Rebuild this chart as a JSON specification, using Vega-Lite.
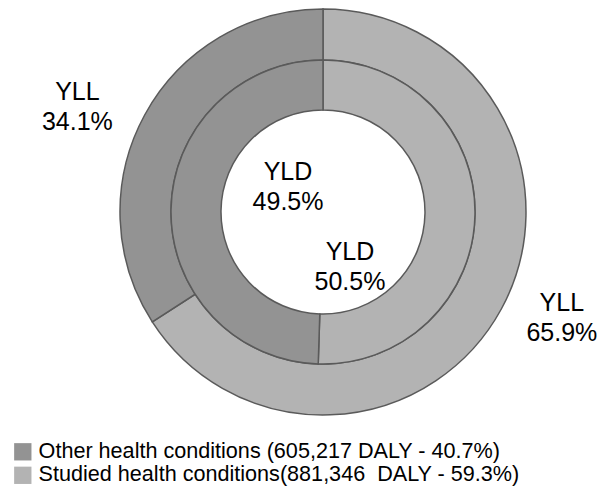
{
  "$schema": "https://vega.github.io/schema/vega-lite/v6.json",
  "width": 554,
  "height": 424,
  "autosize": {"type": "none"},
  "padding": {"left": 46, "top": 0, "right": 0, "bottom": 66},
  "background": "white",
  "config": {
    "view": {"stroke": null},
    "font": "Liberation Sans",
    "text": {"font": "Liberation Sans"}
  },
  "data": {
    "values": [
      {"ring": "YLL", "group": "Studied", "value": 65.9, "label": "YLL\n65.9%"},
      {"ring": "YLL", "group": "Other", "value": 34.1, "label": "YLL\n34.1%"},
      {"ring": "YLD", "group": "Studied", "value": 50.5, "label": "YLD\n50.5%"},
      {"ring": "YLD", "group": "Other", "value": 49.5, "label": "YLD\n49.5%"}
    ]
  },
  "layer": [
    {
      "transform": [{"filter": "datum.ring == 'YLL'"}],
      "mark": {"type": "arc", "outerRadius": 203, "innerRadius": 152, "stroke": "#5a5a5a", "strokeWidth": 1.5},
      "encoding": {
        "theta": {"field": "value", "type": "quantitative", "stack": true, "scale": {"domain": [0, 100]}},
        "order": {"field": "group", "sort": "descending"},
        "color": {
          "field": "group",
          "type": "nominal",
          "scale": {"domain": ["Other", "Studied"], "range": ["#939393", "#b3b3b3"]},
          "legend": {
            "title": null,
            "orient": "none",
            "legendX": -34,
            "legendY": 441,
            "padding": 0,
            "symbolType": "square",
            "symbolSize": 300,
            "symbolStrokeWidth": 0,
            "symbolOpacity": 1,
            "labelFont": "Liberation Sans",
            "labelFontSize": 21.6,
            "labelColor": "#000000",
            "labelOffset": 5,
            "labelLimit": 600,
            "rowPadding": 0.5,
            "labelExpr": "datum.label == 'Other' ? 'Other health conditions (605,217 DALY - 40.7%)' : 'Studied health conditions(881,346 \u00a0DALY - 59.3%)'"
          }
        }
      }
    },
    {
      "transform": [{"filter": "datum.ring == 'YLD'"}],
      "mark": {"type": "arc", "outerRadius": 152, "innerRadius": 102, "stroke": "#5a5a5a", "strokeWidth": 1.5},
      "encoding": {
        "theta": {"field": "value", "type": "quantitative", "stack": true, "scale": {"domain": [0, 100]}},
        "order": {"field": "group", "sort": "descending"},
        "color": {"field": "group", "type": "nominal"}
      }
    },
    {
      "transform": [{"filter": "datum.ring == 'YLL'"}],
      "mark": {"type": "text", "radius": 265, "dx": -13, "dy": 7, "fontSize": 25, "lineHeight": 30, "lineBreak": "\n", "fill": "#000000", "align": "center", "baseline": "middle"},
      "encoding": {
        "theta": {"field": "value", "type": "quantitative", "stack": true, "scale": {"domain": [0, 100]}},
        "order": {"field": "group", "sort": "descending"},
        "text": {"condition": {"test": "datum.group == 'Other'", "field": "label"}, "value": ""}
      }
    },
    {
      "transform": [{"filter": "datum.ring == 'YLL'"}],
      "mark": {"type": "text", "radius": 255, "dx": 15, "dy": -31, "fontSize": 25, "lineHeight": 30, "lineBreak": "\n", "fill": "#000000", "align": "center", "baseline": "middle"},
      "encoding": {
        "theta": {"field": "value", "type": "quantitative", "stack": true, "scale": {"domain": [0, 100]}},
        "order": {"field": "group", "sort": "descending"},
        "text": {"condition": {"test": "datum.group == 'Studied'", "field": "label"}, "value": ""}
      }
    },
    {
      "transform": [{"filter": "datum.ring == 'YLD'"}],
      "mark": {"type": "text", "radius": 40, "dx": 5, "dy": -39, "fontSize": 25, "lineHeight": 30, "lineBreak": "\n", "fill": "#000000", "align": "center", "baseline": "middle"},
      "encoding": {
        "theta": {"field": "value", "type": "quantitative", "stack": true, "scale": {"domain": [0, 100]}},
        "order": {"field": "group", "sort": "descending"},
        "text": {"condition": {"test": "datum.group == 'Other'", "field": "label"}, "value": ""}
      }
    },
    {
      "transform": [{"filter": "datum.ring == 'YLD'"}],
      "mark": {"type": "text", "radius": 40, "dx": -13, "dy": 39, "fontSize": 25, "lineHeight": 30, "lineBreak": "\n", "fill": "#000000", "align": "center", "baseline": "middle"},
      "encoding": {
        "theta": {"field": "value", "type": "quantitative", "stack": true, "scale": {"domain": [0, 100]}},
        "order": {"field": "group", "sort": "descending"},
        "text": {"condition": {"test": "datum.group == 'Studied'", "field": "label"}, "value": ""}
      }
    }
  ]
}
